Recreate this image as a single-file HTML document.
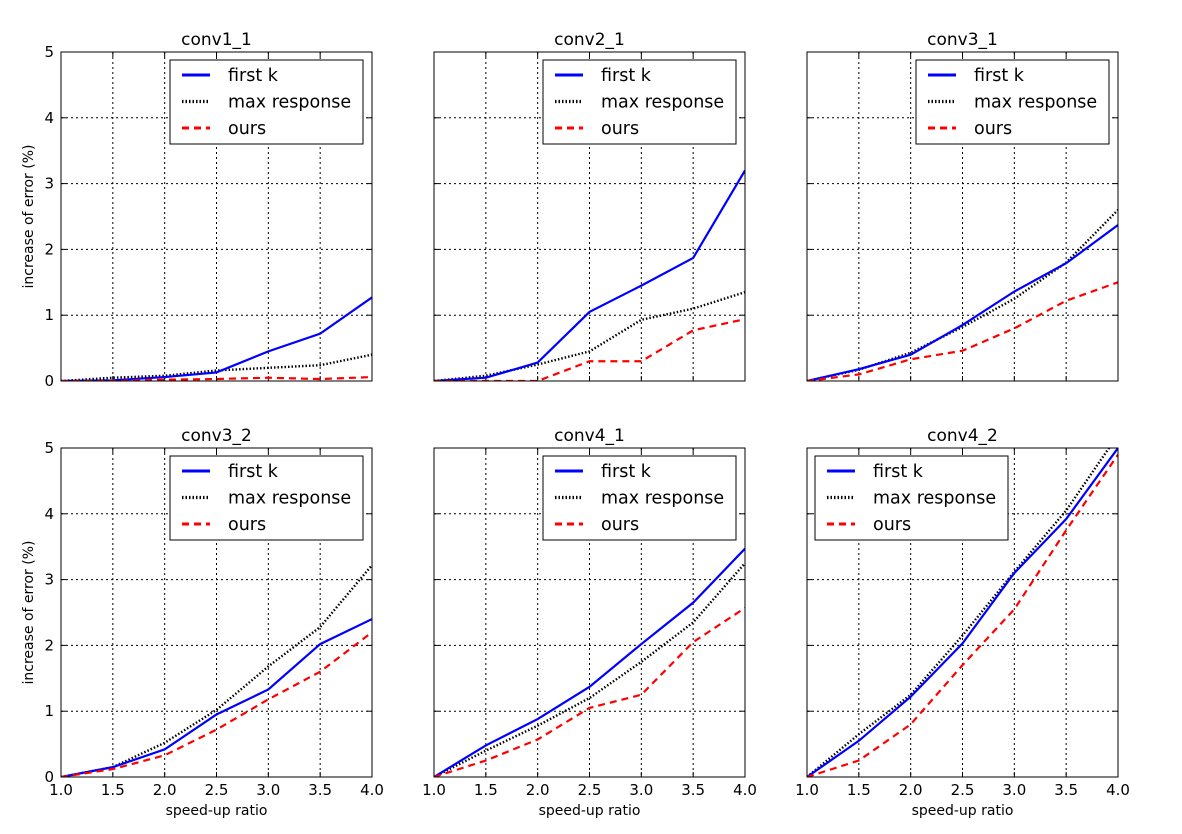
<!DOCTYPE html>
<html><head><meta charset="utf-8"><style>
body{margin:0;background:#fff}
svg text{font-family:"DejaVu Sans","Liberation Sans",sans-serif}
</style></head><body>
<svg id="chart" width="1182" height="829" xmlns="http://www.w3.org/2000/svg"></svg>
<script>
const xCats=[1.0,1.5,2.0,2.5,3.0,3.5,4.0];
const panelTitles=["conv1_1","conv2_1","conv3_1","conv3_2","conv4_1","conv4_2"];
const firstK=[[0,0.01,0.06,0.13,0.45,0.72,1.27],[0,0.05,0.28,1.05,1.45,1.87,3.2],[0,0.18,0.4,0.85,1.36,1.79,2.37],[0,0.15,0.42,0.95,1.33,2.02,2.4],[0,0.48,0.88,1.37,2.02,2.65,3.47],[0,0.55,1.22,2.03,3.1,3.92,5.0]];
const maxResp=[[0,0.05,0.08,0.16,0.2,0.24,0.4],[0,0.08,0.25,0.45,0.93,1.1,1.35],[0,0.17,0.43,0.82,1.25,1.8,2.6],[0,0.15,0.52,1.02,1.68,2.28,3.22],[0,0.4,0.78,1.2,1.75,2.35,3.25],[0,0.65,1.25,2.15,3.12,4.05,5.2]];
const ours=[[0,0,0.02,0.03,0.05,0.03,0.06],[0,0,0,0.3,0.3,0.77,0.94],[0,0.1,0.33,0.46,0.8,1.22,1.5],[0,0.12,0.33,0.72,1.18,1.6,2.2],[0,0.25,0.57,1.05,1.25,2.05,2.57],[0,0.25,0.8,1.7,2.55,3.75,4.9]];
const yTicks=[0,1,2,3,4,5];
const xTickLabels=["1.0","1.5","2.0","2.5","3.0","3.5","4.0"];
const legendLabels=["first k","max response","ours"];
const NS="http://www.w3.org/2000/svg";
const svg=document.getElementById('chart');
function mk(tag,attrs,parent,txt){const e=document.createElementNS(NS,tag);for(const k in attrs)e.setAttribute(k,attrs[k]);if(txt!==undefined)e.textContent=txt;(parent||svg).appendChild(e);return e;}
const colsX=[61,434,807],rowsY=[52,448],W=311,H=329;
const styles=[{stroke:"#0000ff",w:2.2,dash:""},{stroke:"#000",w:2.4,dash:"1.5,2"},{stroke:"#ff0000",w:2.2,dash:"7,5"}];
panelTitles.forEach((t,i)=>{
 const L=colsX[i%3],T=rowsY[Math.floor(i/3)];
 const g=mk('g',{});
 
 
 const sx=v=>L+(v-1)/3*W, sy=v=>T+H-v/5*H;
 const clipId='c'+i;
 const cp=mk('clipPath',{id:clipId},g);mk('rect',{x:L,y:T,width:W,height:H},cp);
 xCats.forEach(v=>{if(v>1&&v<4)mk('line',{x1:sx(v),x2:sx(v),y1:T,y2:T+H,stroke:"#000","stroke-width":1,"stroke-dasharray":"2,3"},g);});
 yTicks.forEach(v=>{if(v>0&&v<5)mk('line',{x1:L,x2:L+W,y1:sy(v),y2:sy(v),stroke:"#000","stroke-width":1,"stroke-dasharray":"2,3"},g);});
 xCats.forEach(v=>{mk('line',{x1:sx(v),x2:sx(v),y1:T+H,y2:T+H-5,stroke:"#000"},g);mk('line',{x1:sx(v),x2:sx(v),y1:T,y2:T+5,stroke:"#000"},g);});
 yTicks.forEach(v=>{mk('line',{x1:L,x2:L+5,y1:sy(v),y2:sy(v),stroke:"#000"},g);mk('line',{x1:L+W,x2:L+W-5,y1:sy(v),y2:sy(v),stroke:"#000"},g);});
 [maxResp[i],firstK[i],ours[i]].forEach((arr,k)=>{
  const s=[styles[1],styles[0],styles[2]][k];
  const p=mk('polyline',{points:arr.map((v,j)=>sx(xCats[j])+","+sy(v)).join(" "),fill:"none",stroke:s.stroke,"stroke-width":s.w,"stroke-dasharray":s.dash,"clip-path":"url(#"+clipId+")"},g);
  
  
 });
 mk('rect',{x:L,y:T,width:W,height:H,fill:"none",stroke:"#000","stroke-width":1},g);
 const tt=mk('text',{x:L+W/2,y:T-7,"text-anchor":"middle","font-size":17},g,t);
 
 
 if(i%3==0){
  yTicks.forEach(v=>mk('text',{x:L-7,y:sy(v)+5,"text-anchor":"end","font-size":15},g,String(v)));
  const yl=mk('text',{transform:`translate(${L-28},${T+H/2}) rotate(-90)`,"text-anchor":"middle","font-size":14},g,"increase of error (%)");
  
  
 }
 if(i>=3){
  xCats.forEach((v,j)=>mk('text',{x:sx(v),y:T+H+18,"text-anchor":"middle","font-size":15},g,xTickLabels[j]));
  const xl=mk('text',{x:L+W/2,y:T+H+38,"text-anchor":"middle","font-size":14},g,"speed-up ratio");
  
  
 }
 const lx=(i==5)?L+8:L+109, ly=T+8;
 const lg=mk('g',{},g);
 
 
 mk('rect',{x:lx,y:ly,width:193,height:84,fill:"#fff",stroke:"#000","stroke-width":1},lg);
 legendLabels.forEach((lab,k)=>{
  const s=styles[k],yy=ly+15+k*26.5;
  mk('line',{x1:lx+12,x2:lx+40,y1:yy,y2:yy,stroke:s.stroke,"stroke-width":s.w+0.8,"stroke-dasharray":s.dash},lg);
  mk('text',{x:lx+58,y:yy+6,"font-size":17.5},lg,lab);
 });
});
</script>
</body></html>
